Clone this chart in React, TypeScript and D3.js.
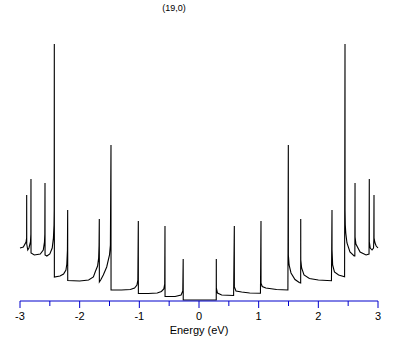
import React from "react";
import * as d3 from "d3";

// (energy eV, DOS arb.), left half then right half
const dosLeft: [number, number][] = [
  [-3.0, 52], [-2.944, 53], [-2.899, 58], [-2.889, 62], [-2.888, 105],
  [-2.887, 56], [-2.87, 50], [-2.85, 52], [-2.825, 58], [-2.818, 66], [-2.816, 121],
  [-2.815, 47], [-2.76, 45], [-2.66, 46], [-2.61, 50], [-2.59, 58], [-2.584, 66], [-2.581, 117],
  [-2.58, 45], [-2.55, 44], [-2.5, 46], [-2.46, 52], [-2.44, 62], [-2.43, 75], [-2.427, 90], [-2.425, 256],
  [-2.424, 23], [-2.33, 24], [-2.27, 26], [-2.23, 30], [-2.215, 36], [-2.205, 50], [-2.201, 90],
  [-2.2, 19.5], [-2.0, 19], [-1.85, 20], [-1.77, 23], [-1.74, 28], [-1.7, 34], [-1.682, 42], [-1.675, 55], [-1.671, 81],
  [-1.67, 18], [-1.648, 20], [-1.604, 25], [-1.547, 33], [-1.5, 45], [-1.485, 55], [-1.475, 155],
  [-1.474, 10], [-1.3, 10], [-1.15, 10.5], [-1.08, 12], [-1.04, 15], [-1.025, 20], [-1.017, 79],
  [-1.016, 6.5], [-0.85, 6.5], [-0.7, 7], [-0.63, 8.5], [-0.59, 11], [-0.575, 16], [-0.57, 74],
  [-0.569, 3.5], [-0.4, 3.5], [-0.3, 5], [-0.272, 9], [-0.265, 41],
  [-0.264, 0],
];

const dosRight: [number, number][] = [
  [0.289, 0], [0.29, 41],
  [0.291, 12], [0.31, 7], [0.38, 5], [0.58, 4.5], [0.592, 74],
  [0.593, 13], [0.62, 9], [0.715, 8], [0.85, 7], [1.03, 6.7], [1.039, 79],
  [1.04, 16.7], [1.06, 13.5], [1.12, 12], [1.3, 10.5], [1.49, 10], [1.497, 155],
  [1.498, 45], [1.51, 35], [1.542, 27], [1.609, 20.5], [1.68, 17.5], [1.704, 17], [1.705, 81],
  [1.706, 40], [1.72, 32], [1.76, 25], [1.85, 21.5], [2.0, 20], [2.22, 19.3], [2.229, 90],
  [2.23, 50], [2.24, 35], [2.27, 28], [2.34, 25], [2.44, 23.3], [2.447, 256],
  [2.448, 90], [2.452, 75], [2.46, 67], [2.48, 57], [2.53, 48], [2.6, 44], [2.612, 44], [2.615, 117],
  [2.616, 63], [2.63, 56], [2.7, 48], [2.8, 45], [2.85, 46], [2.854, 121],
  [2.855, 58], [2.87, 52], [2.9, 50], [2.925, 52], [2.93, 60], [2.933, 105],
  [2.934, 62], [2.95, 57], [2.97, 54], [3.0, 52],
];

const tickValues = [-3, -2.5, -2, -1.5, -1, -0.5, 0, 0.5, 1, 1.5, 2, 2.5, 3];
const tickLabels = ["-3", "-2", "-1", "0", "1", "2", "3"];

const title = "(19,0)";
const xLabel = "Energy (eV)";

export default function App() {
  const width = 409;
  const height = 345;
  const axisY = 301;

  const x = d3.scaleLinear().domain([-3, 3]).range([20, 378]);
  const y = d3.scaleLinear().domain([0, 256]).range([300, 44]);

  const line = d3
    .line<[number, number]>()
    .x((d) => x(d[0]))
    .y((d) => y(d[1]));

  const curve = dosLeft.concat(dosRight);
  const font = "'Liberation Sans', Arial, sans-serif";

  return (
    <svg
      width={width}
      height={height}
      style={{ position: "absolute", left: 0, top: 0, background: "#fff" }}
    >
      <text x={174} y={11} textAnchor="middle" fontSize={9} fontFamily={font}>
        {title}
      </text>

      <path d={line(curve) || ""} fill="none" stroke="#000" strokeWidth={1.1} />

      {/* axis */}
      <line x1={x(-3)} x2={x(3)} y1={axisY} y2={axisY} stroke="#0000cc" strokeWidth={1} />
      {tickValues.map((t) => (
        <line
          key={t}
          x1={x(t)}
          x2={x(t)}
          y1={axisY}
          y2={axisY + (Number.isInteger(t) ? 7 : 5)}
          stroke="#0000cc"
          strokeWidth={1}
        />
      ))}
      {tickLabels.map((l) => (
        <text
          key={l}
          x={x(+l)}
          y={319.5}
          textAnchor="middle"
          fontSize={11}
          fontFamily={font}
        >
          {l}
        </text>
      ))}
      <text x={x(0)} y={334} textAnchor="middle" fontSize={11} fontFamily={font}>
        {xLabel}
      </text>
    </svg>
  );
}
